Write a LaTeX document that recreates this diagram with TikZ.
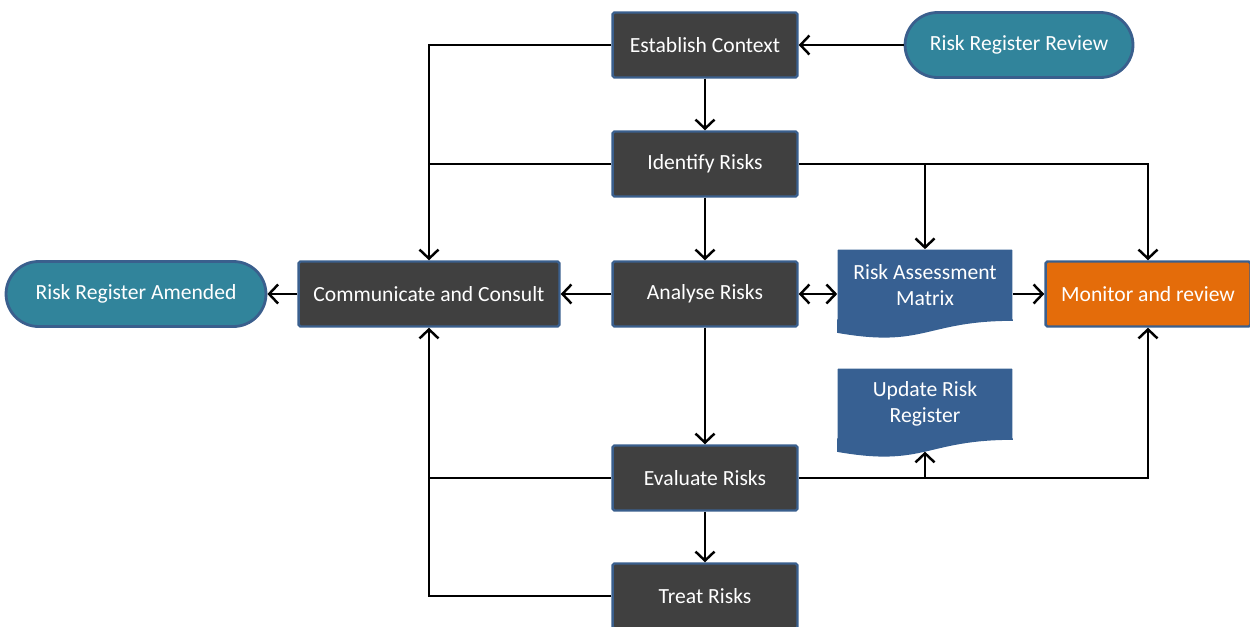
\documentclass[tikz,border=0pt]{standalone}
\usepackage{fontspec}
\setmainfont{Carlito}
\usetikzlibrary{arrows.meta,calc}

\definecolor{boxgrey}{HTML}{404040}
\definecolor{boxedge}{HTML}{3A5F8D}
\definecolor{regteal}{HTML}{31849B}
\definecolor{docblue}{HTML}{376092}
\definecolor{monorange}{HTML}{E46C0A}

% wavy bottom of a document node
\newcommand{\docwave}[1]{%
  \fill[docblue] ($(#1.south west)+(0,0.03cm)$) -- ($(#1.south east)+(0,0.03cm)$) -- (#1.south east)
    .. controls (#1.south) and ($(#1.south)+(0,-0.55cm)$) .. ($(#1.south west)+(0,-0.24cm)$) -- cycle;}

\begin{document}
\begin{tikzpicture}[
    x=0.02cm, y=-0.02cm,
    font=\fontsize{12.3}{14.8}\selectfont,
    procbox/.style={rectangle, rounded corners=1pt, draw=boxedge, line width=1.4pt, fill=boxgrey, text=white, minimum width=3.7cm, minimum height=1.3cm, inner sep=0pt},
    regbox/.style={rectangle, rounded corners=0.65cm, draw=boxedge, line width=1.6pt, fill=regteal, text=white, minimum height=1.3cm, inner sep=0pt},
    docbox/.style={rectangle, rounded corners=0.5pt, fill=docblue, text=white, minimum width=3.5cm, minimum height=1.42cm, align=center, inner sep=0pt},
    tip/.tip={Straight Barb[length=1.8mm,width=3.8mm]},
    conn/.style={line width=1.4pt, -tip},
    plain/.style={line width=1.4pt}
  ]
  \clip (0,0) rectangle (1250,626);

  \node[procbox] (nodeEst) at (705,45) {Establish Context};
  \node[regbox, minimum width=4.56cm] (nodeRev) at (1019,45) {Risk Register Review};
  \node[procbox] (nodeIdf) at (705,164) {Identify Risks};
  \node[procbox] (nodeAna) at (705,294) {Analyse Risks};
  \node[procbox, minimum width=5.22cm] (nodeCom) at (429,294) {Communicate and Consult};
  \node[regbox, minimum width=5.2cm] (nodeAmd) at (136,294) {Risk Register Amended};
  \node[docbox] (nodeMat) at (925,285) {Risk Assessment\\Matrix};
  \docwave{nodeMat}
  \node[procbox, fill=monorange, minimum width=4.1cm] (nodeMon) at (1148,294) {Monitor and review};
  \node[docbox] (nodeUpd) at (925,404) {Update Risk\\Register};
  \docwave{nodeUpd}
  \coordinate (updBot) at ($(nodeUpd.south)+(0,-0.236cm)$);
  \node[procbox] (nodeEvl) at (705,478) {Evaluate Risks};
  \node[procbox] (nodeTrt) at (705,596) {Treat Risks};

  \draw[conn] (nodeRev) -- (nodeEst);
  \draw[conn] (nodeEst) -- (nodeIdf);
  \draw[conn] (nodeEst.west) -| (nodeCom.north);
  \draw[plain] (nodeIdf.west) -- (nodeIdf.west -| nodeCom.north);
  \draw[conn] (nodeIdf.east) -| (nodeMon.north);
  \draw[conn] (nodeIdf.east -| nodeMat.north) -- (nodeMat.north);
  \draw[conn] (nodeIdf) -- (nodeAna);
  \draw[conn] (nodeAna) -- (nodeCom);
  \draw[plain, tip-tip] (nodeAna.east) -- (nodeAna.east -| nodeMat.west);
  \draw[conn] (nodeMon.west -| nodeMat.east) -- (nodeMon.west);
  \draw[conn] (nodeAna) -- (nodeEvl);
  \draw[conn] (nodeEvl.east) -| (nodeMon.south);
  \draw[conn] (nodeEvl.east -| updBot) -- (updBot);
  \draw[plain] (nodeEvl.west) -- (nodeEvl.west -| nodeCom.south);
  \draw[conn] (nodeTrt.west) -| (nodeCom.south);
  \draw[conn] (nodeEvl) -- (nodeTrt);
  \draw[conn] (nodeCom) -- (nodeAmd);
\end{tikzpicture}
\end{document}
